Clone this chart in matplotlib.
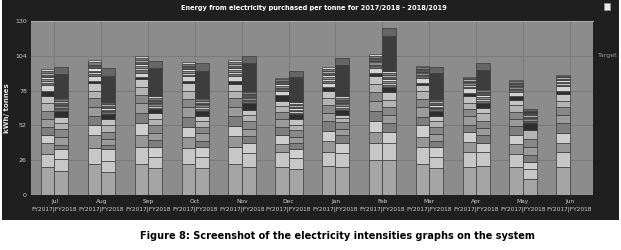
import numpy as np
import matplotlib.pyplot as plt
from matplotlib.patches import Rectangle

# --- data (kWh / tonne, stacked from bottom) ---
months = ['Jul', 'Aug', 'Sep', 'Oct', 'Nov', 'Dec', 'Jan', 'Feb', 'Mar', 'Apr', 'May', 'Jun']
y_ticks = [0, 26, 52, 78, 104, 130]

# main components c0..c10
fy2017_main = np.array([
    [21.0, 10.0, 8.0, 6.0, 6.0, 6.0, 6.0, 6.0, 5.0, 4.0, 4.0],
    [23.5, 11.5, 9.5, 7.5, 7.0, 7.0, 6.5, 5.5, 6.0, 1.3, 3.7],
    [23.5, 12.0, 9.5, 9.0, 7.0, 7.5, 6.5, 6.0, 6.0, 0.8, 3.7],
    [23.5, 11.5, 8.0, 8.0, 7.5, 7.0, 6.5, 6.0, 5.75, 1.2, 3.75],
    [23.5, 12.0, 8.5, 7.5, 7.25, 7.0, 6.75, 5.5, 5.0, 2.0, 4.25],
    [21.25, 10.75, 6.0, 7.0, 6.0, 6.0, 5.0, 4.25, 4.25, 4.5, 3.0],
    [22.0, 10.5, 7.5, 7.5, 7.5, 6.0, 6.0, 5.5, 5.5, 2.5, 3.5],
    [26.0, 12.5, 8.5, 8.0, 7.5, 8.0, 6.5, 6.0, 5.75, 2.25, 4.0],
    [23.5, 12.5, 7.5, 8.5, 6.5, 7.0, 6.5, 5.5, 4.5, 1.75, 3.75],
    [21.0, 11.0, 7.5, 7.5, 5.5, 6.25, 5.75, 4.25, 5.0, 2.75, 3.5],
    [21.0, 9.5, 7.5, 7.0, 6.5, 5.5, 5.0, 5.0, 4.25, 2.5, 3.25],
    [21.0, 11.0, 7.0, 7.5, 7.0, 6.5, 5.5, 5.0, 5.0, 2.5, 3.25],
])
fy2017_stripes = np.array([
    [1.5, 2, 1.5, 1, 2, 1.5, 1.5, 1.5],
    [1.5, 1.5, 1, 2, 1.5, 1, 1.5, 1.5],
    [2, 1.5, 1.5, 1.5, 1, 2, 1.5, 1.5],
    [1.3, 1.5, 1, 1.5, 1.5, 1, 1.5, 1],
    [1.5, 1, 1.5, 2, 1, 1.5, 1.5, 1.5],
    [1.25, 1, 1.5, 1, 1.5, 1, 1.25, 1.25],
    [1.5, 1.5, 1, 1.5, 2, 1, 1.5, 1.5],
    [1.5, 1, 1.5, 1, 1.5, 1, 1.5, 1],
    [1.25, 1, 1.5, 1, 1.25, 1, 1.25, 1],
    [1, 1, 1.5, 1, 1, 1, 1, 1],
    [1.25, 1, 1.25, 1, 1.25, 1, 1.25, 1],
    [1, 1.25, 1, 1.25, 1, 1.25, 1, 1],
])

fy2018_main = np.array([
    [18.0, 9.0, 0, 7.0, 3.0, 6.5, 6.0, 4.5, 4.5, 4.0, 0],
    [17.5, 8.0, 0, 8.5, 3.5, 4.5, 5.0, 5.5, 4.0, 3.75, 0],
    [20.0, 8.75, 0, 6.75, 5.75, 5.0, 6.25, 4.25, 4.25, 3.25, 0],
    [20.0, 8.75, 0, 6.75, 5.0, 5.5, 5.0, 4.5, 3.75, 3.75, 0],
    [21.25, 10.0, 0, 7.5, 5.0, 5.75, 5.5, 5.0, 3.75, 5.0, 0],
    [19.5, 8.5, 0, 6.0, 4.75, 4.75, 5.0, 4.0, 4.0, 4.0, 0],
    [21.25, 10.0, 0, 7.5, 5.75, 5.0, 5.0, 2.75, 2.75, 3.75, 0],
    [26.0, 13.0, 0, 8.0, 6.5, 6.5, 6.0, 5.0, 6.0, 3.5, 0],
    [20.0, 8.75, 0, 6.75, 5.0, 5.0, 5.0, 4.5, 3.75, 3.75, 0],
    [22.0, 10.0, 0, 6.75, 5.75, 5.5, 5.5, 5.5, 4.0, 4.0, 0],
    [12.0, 7.5, 0, 5.0, 5.5, 6.0, 6.0, 6.5, 0, 5.0, 0],
    [0, 0, 0, 0, 0, 0, 0, 0, 0, 0, 0],
])
fy2018_stripes = np.array([
    [1.5, 1, 1.5, 1, 1.5, 1, 1.5, 1],
    [1.5, 1, 1, 1.5, 1, 1.5, 1, 1],
    [1, 1.5, 1, 1, 1.5, 1, 1.5, 1],
    [1.5, 1, 1.5, 1, 1, 1.5, 1, 1],
    [1.25, 1, 1.5, 1, 1.25, 1, 1.25, 1],
    [1, 1.25, 1, 1.25, 1, 1.25, 1, 1.25],
    [1.5, 1, 1.5, 1, 1.5, 1, 1.5, 1],
    [2, 1.5, 1.5, 1.5, 1.5, 1.5, 1.5, 1.5],
    [1.5, 1, 1, 1.5, 1, 1.5, 1, 1],
    [1.5, 1.5, 1, 1.5, 1.5, 1, 1.5, 1],
    [1, 1, 1, 1, 1, 1, 0.75, 0.75],
    [0, 0, 0, 0, 0, 0, 0, 0],
])
# big dark block + cap on top of FY2018 bars
fy2018_top = np.array([
    [18.0, 5.5], [19.5, 5.75], [21.25, 5.25], [20.0, 5.75], [20.5, 5.25], [19.0, 4.5],
    [23.25, 5.25], [25.5, 6.0], [19.25, 4.75], [14.25, 5.0], [1.5, 1.5], [0, 0],
])

main_colors = ['#a5a5a5', '#c7c7c7', '#979797', '#cecece', '#7e7e7e', '#9b9b9b',
               '#888888', '#b3b3b3', '#c3c3c3', '#2e2e2e', '#d3d3d3']
stripe_colors = ['#6e6e6e', '#c8c8c8', '#8a8a8a', '#e0e0e0', '#5a5a5a', '#b0b0b0', '#7a7a7a', '#d0d0d0']
top_colors = ['#3d3d3d', '#656565']

DARK = '#1f1f1f'
PLOT_BG = '#8c8c8c'
GRID = '#7b7b7b'
TXT = '#cfcfcf'

fig = plt.figure(figsize=(6.21, 2.5), dpi=100)
fig.patch.set_facecolor('white')
fig.patches.append(Rectangle((2 / 621, 1 - 220 / 250), 1 - 4 / 621, 220 / 250, transform=fig.transFigure,
                             facecolor=DARK, edgecolor='none', zorder=-10))
# small window icon top right
fig.patches.append(Rectangle((604 / 621, 1 - 10 / 250), 6 / 621, 7 / 250, transform=fig.transFigure,
                             facecolor='#e8e8e8', edgecolor='#9a9a9a', lw=0.5, zorder=-5))

ax = fig.add_axes([31 / 621, 1 - 195 / 250, 562 / 621, 174 / 250])
ax.set_facecolor(PLOT_BG)

x = np.arange(len(months))
w17, w18 = 0.285, 0.30


def draw_stack(xpos, width, blocks, colors):
    bottom = np.zeros(len(xpos))
    for col, c in zip(blocks.T, colors):
        keep = col > 0
        ax.bar(xpos[keep], col[keep], width=width, bottom=bottom[keep], align='edge',
               color=c, edgecolor='#3a3a3a', linewidth=0.5, zorder=3)
        bottom = bottom + col


draw_stack(x - w17, w17, np.hstack([fy2017_main, fy2017_stripes]),
           main_colors + stripe_colors)
draw_stack(x, w18, np.hstack([fy2018_main, fy2018_stripes, fy2018_top]),
           main_colors + stripe_colors + top_colors)

ax.set_xlim(-0.5, len(months) - 0.5)
ax.set_ylim(0, 130)
ax.set_yticks(y_ticks)
ax.set_yticklabels([str(t) for t in y_ticks], fontsize=4.5, color=TXT)
ax.set_xticks(x)
ax.set_xticklabels([f'{m}\nFY2017|FY2018' for m in months], fontsize=4.2, color=TXT, linespacing=1.6)
ax.tick_params(length=0, pad=3)
ax.grid(True, color=GRID, linewidth=0.8, zorder=1)
ax.set_axisbelow(True)
for s in ['left', 'bottom', 'right']:
    ax.spines[s].set_visible(False)
ax.spines['top'].set_color('#a8a8a8')
ax.spines['top'].set_linewidth(0.8)

ax.set_ylabel('kWh/ tonnes', fontsize=5, color='#e6e6e6', fontweight='bold', labelpad=4)
ax.text(1.008, 104, 'Target', transform=ax.get_yaxis_transform(), fontsize=4.5,
        color='#9a9a9a', va='center', ha='left')

fig.text(0.505, 1 - 8 / 250, 'Energy from electricity purchased per tonne for 2017/2018 - 2018/2019',
         ha='center', va='center', fontsize=4.8, fontweight='bold', color='white')
fig.text(337 / 621, 1 - 236 / 250, 'Figure 8: Screenshot of the electricity intensities graphs on the system',
         ha='center', va='center', fontsize=7, fontweight='bold', color='black')

plt.savefig('out.png', dpi=100, facecolor=fig.get_facecolor())
